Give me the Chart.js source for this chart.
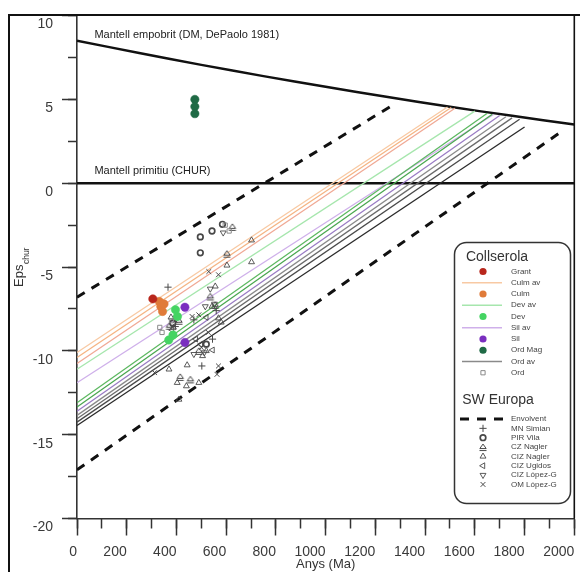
<!DOCTYPE html>
<html>
<head>
<meta charset="utf-8">
<script src="https://cdn.jsdelivr.net/npm/chart.js@4/dist/chart.umd.min.js"></script>
<style>
  html, body { margin: 0; padding: 0; background: #fff; }
  #wrap { width: 580px; height: 572px; }
</style>
</head>
<body>
<div id="wrap"><canvas id="c" width="580" height="572"></canvas></div>
<script>
// ---- axis ticks ----
const xMajorTicks = [0, 200, 400, 600, 800, 1000, 1200, 1400, 1600, 1800, 2000];
const xMinorTicks = [0, 100, 200, 300, 400, 500, 600, 700, 800, 900, 1000, 1100, 1200, 1300, 1400, 1500, 1600, 1700, 1800, 1900, 2000];
const yMajorTicks = [-20, -15, -10, -5, 0, 5, 10];
const yMinorTicks = [-20, -17.5, -15, -12.5, -10, -7.5, -5, -2.5, 0, 2.5, 5, 7.5, 10];

// ---- reference curves (age Ma, epsilon Nd) ----
const dmCurve = [[0, 8.5], [250, 7.77], [500, 7.06], [750, 6.39], [1000, 5.75], [1250, 5.14], [1500, 4.56], [1750, 4.02], [2000, 3.5]];
const churLine = [[0, 0], [2000, 0]];
const envelopeUpper = [[0, -6.8], [1280, 4.75]];
const envelopeLower = [[0, -17.1], [1950, 3.1]];

// ---- Collserola model evolution lines ----
const culmAvLines = [[[0, -10.1], [1490, 4.55]], [[0, -10.4], [1505, 4.52]], [[0, -10.75], [1520, 4.47]]];
const devAvLines = [[[0, -11.1], [1600, 4.3]], [[0, -13.1], [1650, 4.17]], [[0, -13.35], [1670, 4.12]]];
const silAvLines = [[[0, -11.9], [1675, 4.1]], [[0, -13.6], [1700, 4.04]]];
const ordAvLines = [[[0, -13.85], [1725, 3.97]], [[0, -14.05], [1750, 3.9]], [[0, -14.25], [1780, 3.82]], [[0, -14.45], [1800, 3.35]]];

// ---- Collserola samples ----
const grant = [[305, -6.9]];
const culm = [[331, -7.05], [337, -7.35], [344, -7.65], [350, -7.2]];
const dev = [[396, -7.55], [404, -7.95], [386, -9.05], [369, -9.35]];
const sil = [[434, -7.4], [434, -9.5]];
const ordMag = [[474, 5.0], [474, 4.57], [474, 4.15]];
const ord = [[333, -8.6], [342, -8.9], [596, -2.5], [612, -2.85], [380, -8.2]];

// ---- SW Europe reference data ----
const mnSimian = [[366, -6.2], [502, -10.9], [470, -8.15], [395, -8.55], [545, -9.3], [560, -7.6]];
const pirVila = [[496, -3.2], [496, -4.15], [543, -2.85], [585, -2.45], [385, -8.35], [520, -9.6]];
const czNagler = [[603, -4.2], [536, -6.75], [556, -7.25], [456, -11.7], [415, -11.55], [410, -8.2], [625, -2.6], [372, -8.5], [490, -10.0]];
const cizNagler = [[702, -3.4], [702, -4.7], [603, -4.9], [556, -6.15], [543, -7.35], [370, -11.1], [443, -10.85], [403, -11.9], [490, -11.9], [410, -12.9], [440, -12.1], [580, -8.3], [569, -8.05], [378, -8.0], [388, -8.6], [505, -10.3], [520, -10.0]];
const cizUgidos = [[520, -8.0], [498, -9.6], [478, -9.3], [545, -9.95], [400, -7.95], [382, -8.75]];
const cizLopez = [[516, -7.35], [536, -6.3], [553, -7.2], [470, -10.2], [512, -10.1], [588, -2.95]];
const omLopez = [[530, -5.27], [569, -5.46], [463, -7.95], [569, -10.9], [563, -11.4], [490, -7.85], [528, -8.9], [312, -11.3], [395, -8.2], [500, -9.8]];

// ---- text ----
const dmLabel = 'Mantell empobrit (DM, DePaolo 1981)';
const churLabel = 'Mantell primitiu (CHUR)';
const xTitle = 'Anys (Ma)';
const yTitleMain = 'Eps';
const yTitleSub = 'chur';
const collserolaTitle = 'Collserola';
const swTitle = 'SW Europa';

const FONT = "'Liberation Sans', Arial, Helvetica, sans-serif";
const INK = '#333';
const SYM = '#484848';

// small custom glyph: triangle over a bar
function makeBarTriangle() {
  const c = document.createElement('canvas');
  c.width = 10; c.height = 10;
  const g = c.getContext('2d');
  g.strokeStyle = SYM;
  g.lineWidth = 1;
  g.beginPath();
  g.moveTo(1.8, 6.5); g.lineTo(5, 2); g.lineTo(8.2, 6.5); g.closePath();
  g.moveTo(1.5, 8.5); g.lineTo(8.5, 8.5);
  g.stroke();
  return c;
}
const barTriangle = makeBarTriangle();

const toXY = arr => arr.map(p => ({ x: p[0], y: p[1] }));

// styles of point series
const collserolaSeries = [
  { label: 'Grant', data: grant, kind: 'dot', color: '#b8261c' },
  { label: 'Culm av', lines: culmAvLines, kind: 'line', colors: ['#f8c9a3', '#f5b483', '#f0a995'] },
  { label: 'Culm', data: culm, kind: 'dot', color: '#e07b39' },
  { label: 'Dev av', lines: devAvLines, kind: 'line', colors: ['#a6e6ad', '#5cb860', '#4aa650'] },
  { label: 'Dev', data: dev, kind: 'dot', color: '#44d462' },
  { label: 'Sil av', lines: silAvLines, kind: 'line', colors: ['#cfb0ea', '#9a7cc4'] },
  { label: 'Sil', data: sil, kind: 'dot', color: '#7a2fbf' },
  { label: 'Ord Mag', data: ordMag, kind: 'dot', color: '#1f6a45' },
  { label: 'Ord av', lines: ordAvLines, kind: 'line', colors: ['#8a8a8a', '#6a6a6a', '#4a4a4a', '#2a2a2a'] },
  { label: 'Ord', data: ord, kind: 'sym', style: 'rect', radius: 3, color: '#8a8a8a', width: 1 }
];
const swSeries = [
  { label: 'Envolvent', kind: 'dash' },
  { label: 'MN Simian', data: mnSimian, kind: 'sym', style: 'cross', radius: 3.6, color: SYM, width: 1 },
  { label: 'PIR Vila', data: pirVila, kind: 'sym', style: 'circle', radius: 2.8, color: SYM, width: 1.7 },
  { label: 'CZ Nagler', data: czNagler, kind: 'sym', style: barTriangle, radius: 4, color: SYM, width: 1 },
  { label: 'CIZ Nagler', data: cizNagler, kind: 'sym', style: 'triangle', radius: 3.4, color: SYM, width: 0.9 },
  { label: 'CIZ Ugidos', data: cizUgidos, kind: 'sym', style: 'triangle', rotation: 270, radius: 3.4, color: SYM, width: 0.9 },
  { label: 'CIZ López-G', data: cizLopez, kind: 'sym', style: 'triangle', rotation: 180, radius: 3.4, color: SYM, width: 0.9 },
  { label: 'OM López-G', data: omLopez, kind: 'sym', style: 'crossRot', radius: 3.4, color: SYM, width: 1 }
];

// ---- datasets: points first so they sit on top of the lines ----
const datasets = [];
collserolaSeries.concat(swSeries).forEach(s => {
  if (s.kind === 'dot') {
    datasets.push({ data: toXY(s.data), pointStyle: 'circle', pointRadius: 4.2,
      backgroundColor: s.color, borderColor: s.color, pointBorderWidth: 0.5 });
  } else if (s.kind === 'sym') {
    datasets.push({ data: toXY(s.data), pointStyle: s.style, pointRadius: s.radius,
      pointRotation: s.rotation || 0, backgroundColor: 'rgba(255,255,255,0)',
      borderColor: s.color, pointBorderWidth: s.width });
  }
});
collserolaSeries.filter(s => s.kind === 'line').forEach(s => {
  s.lines.forEach((ln, i) => {
    datasets.push({ data: toXY(ln), showLine: true, pointRadius: 0, borderWidth: 1.3,
      borderColor: s.colors[i % s.colors.length], fill: false });
  });
});
datasets.push({ data: toXY(envelopeUpper), showLine: true, pointRadius: 0, borderWidth: 3,
  borderColor: '#111', borderDash: [9, 8], fill: false });
datasets.push({ data: toXY(envelopeLower), showLine: true, pointRadius: 0, borderWidth: 3,
  borderColor: '#111', borderDash: [9, 8], fill: false });
datasets.push({ data: toXY(dmCurve), showLine: true, pointRadius: 0, borderWidth: 2.5,
  borderColor: '#111', tension: 0.3, fill: false });
datasets.push({ data: toXY(churLine), showLine: true, pointRadius: 0, borderWidth: 2.5,
  borderColor: '#111', fill: false });

function setTicks(arr) {
  return scale => { scale.ticks = arr.map(v => ({ value: v })); };
}

// frame, annotations, y title
const decorPlugin = {
  id: 'decor',
  afterDatasetsDraw(chart) {
    const { ctx, scales } = chart;
    const x = scales.x, y = scales.y;
    ctx.save();
    ctx.fillStyle = '#222';
    ctx.font = '11px ' + FONT;
    ctx.textBaseline = 'middle';
    ctx.textAlign = 'left';
    ctx.fillText(dmLabel, x.getPixelForValue(70), y.getPixelForValue(8.85));
    ctx.fillText(churLabel, x.getPixelForValue(70), y.getPixelForValue(0.73));
    ctx.restore();
  },
  afterDraw(chart) {
    const { ctx, chartArea } = chart;
    ctx.save();
    // outer frame
    ctx.strokeStyle = '#111';
    ctx.lineWidth = 2;
    ctx.beginPath();
    ctx.moveTo(9, 572); ctx.lineTo(9, 15); ctx.lineTo(580, 15);
    ctx.stroke();
    ctx.lineWidth = 1.6;
    ctx.beginPath();
    ctx.moveTo(chartArea.right, 15); ctx.lineTo(chartArea.right, chartArea.bottom);
    ctx.stroke();

    // y axis title with subscript
    ctx.translate(23, 287);
    ctx.rotate(-Math.PI / 2);
    ctx.fillStyle = '#333';
    ctx.textBaseline = 'alphabetic';
    ctx.textAlign = 'left';
    ctx.font = '13px ' + FONT;
    ctx.fillText(yTitleMain, 0, 0);
    const w = ctx.measureText(yTitleMain).width;
    ctx.font = '8.5px ' + FONT;
    ctx.fillText(yTitleSub, w + 0.5, 6);
    ctx.restore();

    drawLegend(ctx);
  }
};

function roundRect(ctx, x, y, w, h, r) {
  ctx.beginPath();
  ctx.moveTo(x + r, y);
  ctx.lineTo(x + w - r, y);
  ctx.arcTo(x + w, y, x + w, y + r, r);
  ctx.lineTo(x + w, y + h - r);
  ctx.arcTo(x + w, y + h, x + w - r, y + h, r);
  ctx.lineTo(x + r, y + h);
  ctx.arcTo(x, y + h, x, y + h - r, r);
  ctx.lineTo(x, y + r);
  ctx.arcTo(x, y, x + r, y, r);
  ctx.closePath();
}

function drawSymbol(ctx, s, cx, cy) {
  const opts = { pointStyle: s.style, radius: s.radius, rotation: s.rotation || 0, borderWidth: s.width };
  ctx.save();
  ctx.strokeStyle = s.color;
  ctx.fillStyle = 'rgba(255,255,255,0)';
  ctx.lineWidth = s.width;
  if (Chart.helpers && Chart.helpers.drawPoint) {
    Chart.helpers.drawPoint(ctx, opts, cx, cy);
  } else {
    ctx.beginPath(); ctx.arc(cx, cy, s.radius, 0, Math.PI * 2); ctx.stroke();
  }
  ctx.restore();
}

function drawLegend(ctx) {
  ctx.save();
  roundRect(ctx, 454.5, 242.5, 116, 261, 12);
  ctx.fillStyle = '#fff';
  ctx.fill();
  ctx.strokeStyle = '#333';
  ctx.lineWidth = 1.5;
  ctx.stroke();

  ctx.fillStyle = '#333';
  ctx.textAlign = 'center';
  ctx.textBaseline = 'middle';
  ctx.font = '14px ' + FONT;
  ctx.fillText(collserolaTitle, 497, 257);
  ctx.fillText(swTitle, 498, 400);

  const symX = 483, textX = 511;
  const rows = [];
  collserolaSeries.forEach((s, i) => rows.push({ s, y: 271.5 + i * 11.25 }));
  swSeries.forEach((s, i) => rows.push({ s, y: 419 + i * 9.35 }));

  rows.forEach(({ s, y }) => {
    if (s.kind === 'dot') {
      ctx.beginPath();
      ctx.fillStyle = s.color;
      ctx.arc(symX, y, 3.6, 0, Math.PI * 2);
      ctx.fill();
    } else if (s.kind === 'line') {
      ctx.beginPath();
      ctx.strokeStyle = s.colors[0];
      ctx.lineWidth = 1.5;
      ctx.moveTo(462, y); ctx.lineTo(502, y);
      ctx.stroke();
    } else if (s.kind === 'dash') {
      ctx.save();
      ctx.beginPath();
      ctx.strokeStyle = '#111';
      ctx.lineWidth = 3;
      ctx.setLineDash([9, 8]);
      ctx.moveTo(460, y); ctx.lineTo(503, y);
      ctx.stroke();
      ctx.restore();
    } else {
      drawSymbol(ctx, s, symX, y);
    }
    ctx.fillStyle = '#444';
    ctx.textAlign = 'left';
    ctx.textBaseline = 'middle';
    ctx.font = '8px ' + FONT;
    ctx.fillText(s.label, textX, y);
  });
  ctx.restore();
}

const axisInk = '#333';
const plainLabel = v => String(v);
new Chart(document.getElementById('c'), {
  type: 'scatter',
  data: { datasets },
  plugins: [decorPlugin],
  options: {
    responsive: false,
    animation: false,
    devicePixelRatio: 1,
    layout: { padding: { left: 0, top: 15.6, right: 1, bottom: 0 } },
    plugins: { legend: { display: false }, tooltip: { enabled: false } },
    scales: {
      x: {
        type: 'linear', position: 'bottom', weight: 1, min: 0, max: 2000,
        afterBuildTicks: setTicks(xMajorTicks),
        afterFit: s => { s.height = 53.5; s.paddingLeft = 0; s.paddingRight = 0; },
        ticks: { align: 'end', padding: 8, color: '#3a3a3a', autoSkip: false, maxRotation: 0,
          callback: plainLabel, font: { family: FONT, size: 14 } },
        grid: { drawOnChartArea: false, tickLength: 17, tickWidth: 1.5, tickColor: axisInk },
        border: { display: true, color: axisInk, width: 1.6 },
        title: { display: true, text: xTitle, color: '#333', font: { family: FONT, size: 13 },
          padding: { top: 0, bottom: 0 } }
      },
      xMinor: {
        type: 'linear', position: 'bottom', weight: 0, min: 0, max: 2000,
        afterBuildTicks: setTicks(xMinorTicks),
        afterFit: s => { s.height = 0; s.paddingLeft = 0; s.paddingRight = 0; },
        ticks: { display: false },
        grid: { drawOnChartArea: false, tickLength: 10, tickWidth: 1.5, tickColor: axisInk },
        border: { display: false }
      },
      y: {
        type: 'linear', position: 'left', weight: 1, min: -20, max: 10,
        afterBuildTicks: setTicks(yMajorTicks),
        afterFit: s => { s.width = 77; s.paddingTop = 0; s.paddingBottom = 0; },
        ticks: { padding: 9, labelOffset: 9, color: '#3a3a3a', autoSkip: false,
          callback: plainLabel, font: { family: FONT, size: 14 } },
        grid: { drawOnChartArea: false, tickLength: 15, tickWidth: 1.5, tickColor: axisInk },
        border: { display: true, color: axisInk, width: 1.6 }
      },
      yMinor: {
        type: 'linear', position: 'left', weight: 0, min: -20, max: 10,
        afterBuildTicks: setTicks(yMinorTicks),
        afterFit: s => { s.width = 0; s.paddingTop = 0; s.paddingBottom = 0; },
        ticks: { display: false },
        grid: { drawOnChartArea: false, tickLength: 9, tickWidth: 1.5, tickColor: axisInk },
        border: { display: false }
      }
    }
  }
});
</script>
</body>
</html>
